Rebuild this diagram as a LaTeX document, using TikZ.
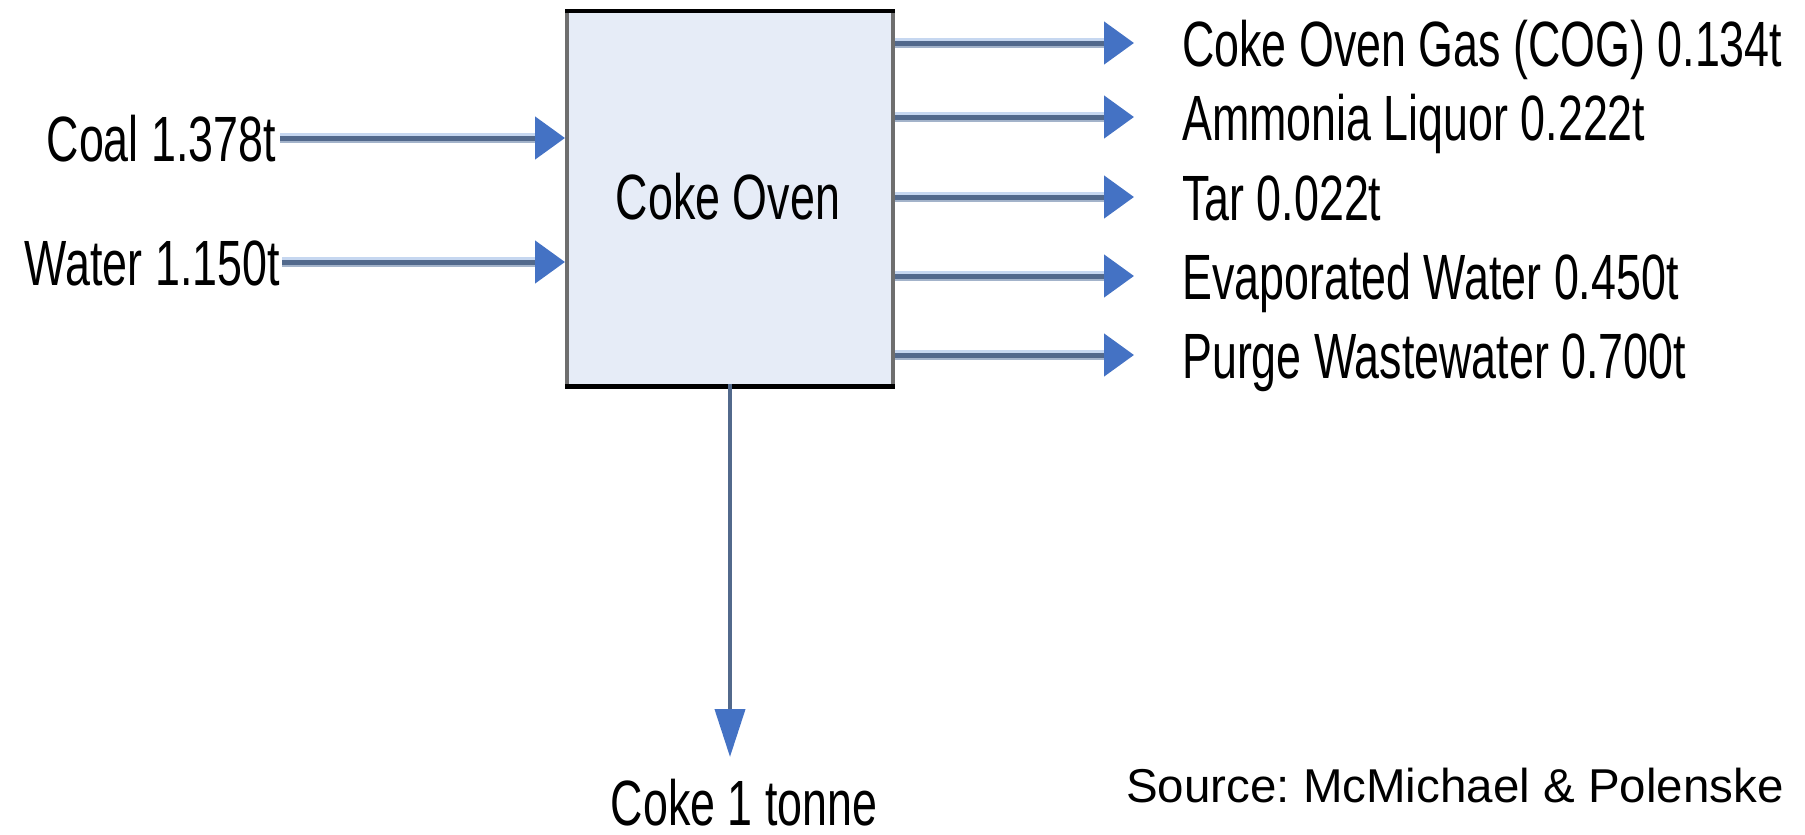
\documentclass[tikz,border=0pt]{standalone}
\usepackage{fontspec}
\setmainfont{Liberation Sans}
\newfontfamily\narrowfont[FakeStretch=0.70]{Liberation Sans}
\usetikzlibrary{arrows.meta}
\definecolor{boxfill}{HTML}{E6ECF7}
\definecolor{sidegray}{HTML}{6E6E6E}
\definecolor{halo}{HTML}{C6D7F0}
\definecolor{lowhalo}{HTML}{A3B3CA}
\definecolor{core}{HTML}{52698C}
\definecolor{tipblue}{HTML}{4472C4}
\tikzset{
  lbl/.style={font=\narrowfont\fontsize{64}{70}\selectfont, inner sep=0pt, text=black},
  srclbl/.style={font=\fontsize{47.5}{52}\selectfont, inner sep=0pt, text=black},
  hhalo/.style={draw=halo, line width=10pt, shorten >=26pt},
  hlow/.style={draw=lowhalo, line width=3pt, shorten >=26pt, transform canvas={yshift=-3.5pt}},
  hflow/.style={draw=core, line width=5pt, -{Triangle[length=30pt,width=42pt,color=tipblue]}},
  vflow/.style={draw=core, line width=4pt, -{Triangle[length=48pt,width=30pt,color=tipblue]}},
  boxstyle/.style={fill=boxfill, draw=none, minimum width=326pt, minimum height=375pt, inner sep=0pt, anchor=north west},
}
\begin{document}
\frenchspacing
\begin{tikzpicture}[x=1pt,y=-1pt]
\useasboundingbox (0,0) rectangle (1805,835);
% box
\node[boxstyle] (box) at (567,11) {};
\draw[sidegray, line width=4pt] (box.north west) -- (box.south west);
\draw[sidegray, line width=4pt] (box.north east) -- (box.south east);
\draw[black, line width=4.5pt] ([xshift=-2pt]box.north west) -- ([xshift=2pt]box.north east);
\draw[black, line width=4.5pt] ([xshift=-2pt]box.south west) -- ([xshift=2pt]box.south east);
\node[lbl, anchor=base] (oven) at (728,219) {Coke Oven};
% inputs
\node[lbl, anchor=base east] (coal) at (276,161) {Coal 1.378t};
\node[lbl, anchor=base east] (water) at (280,285) {Water 1.150t};
\coordinate (i1) at (280,138);
\coordinate (i2) at (282,262);
\foreach \c in {i1,i2}{
  \draw[hhalo] (\c) -- ([xshift=-2pt]\c -| box.west);
  \draw[hlow] (\c) -- ([xshift=-2pt]\c -| box.west);
  \draw[hflow] (\c) -- ([xshift=-2pt]\c -| box.west);
}
% outputs
\node[lbl, anchor=base west] (o1t) at (1182,66) {Coke Oven Gas (COG) 0.134t};
\node[lbl, anchor=base west] (o2t) at (1182,140) {Ammonia Liquor 0.222t};
\node[lbl, anchor=base west] (o3t) at (1182,220) {Tar 0.022t};
\node[lbl, anchor=base west] (o4t) at (1182,299) {Evaporated Water 0.450t};
\node[lbl, anchor=base west] (o5t) at (1182,378) {Purge Wastewater 0.700t};
\coordinate (o1) at (1134,43);
\coordinate (o2) at (1134,117);
\coordinate (o3) at (1134,197);
\coordinate (o4) at (1134,276);
\coordinate (o5) at (1134,355);
\foreach \c in {o1,o2,o3,o4,o5}{
  \draw[hhalo] ([xshift=2pt]\c -| box.east) -- (\c);
  \draw[hlow] ([xshift=2pt]\c -| box.east) -- (\c);
  \draw[hflow] ([xshift=2pt]\c -| box.east) -- (\c);
}
% coke output
\node[lbl, anchor=base] (coke) at (744,825) {Coke 1 tonne};
\coordinate (cokeend) at (730,757);
\draw[vflow] ([yshift=2pt]box.south -| cokeend) -- (cokeend);
% source
\node[srclbl, anchor=base west] (src) at (1126,802) {Source: McMichael \& Polenske};
\end{tikzpicture}
\end{document}
